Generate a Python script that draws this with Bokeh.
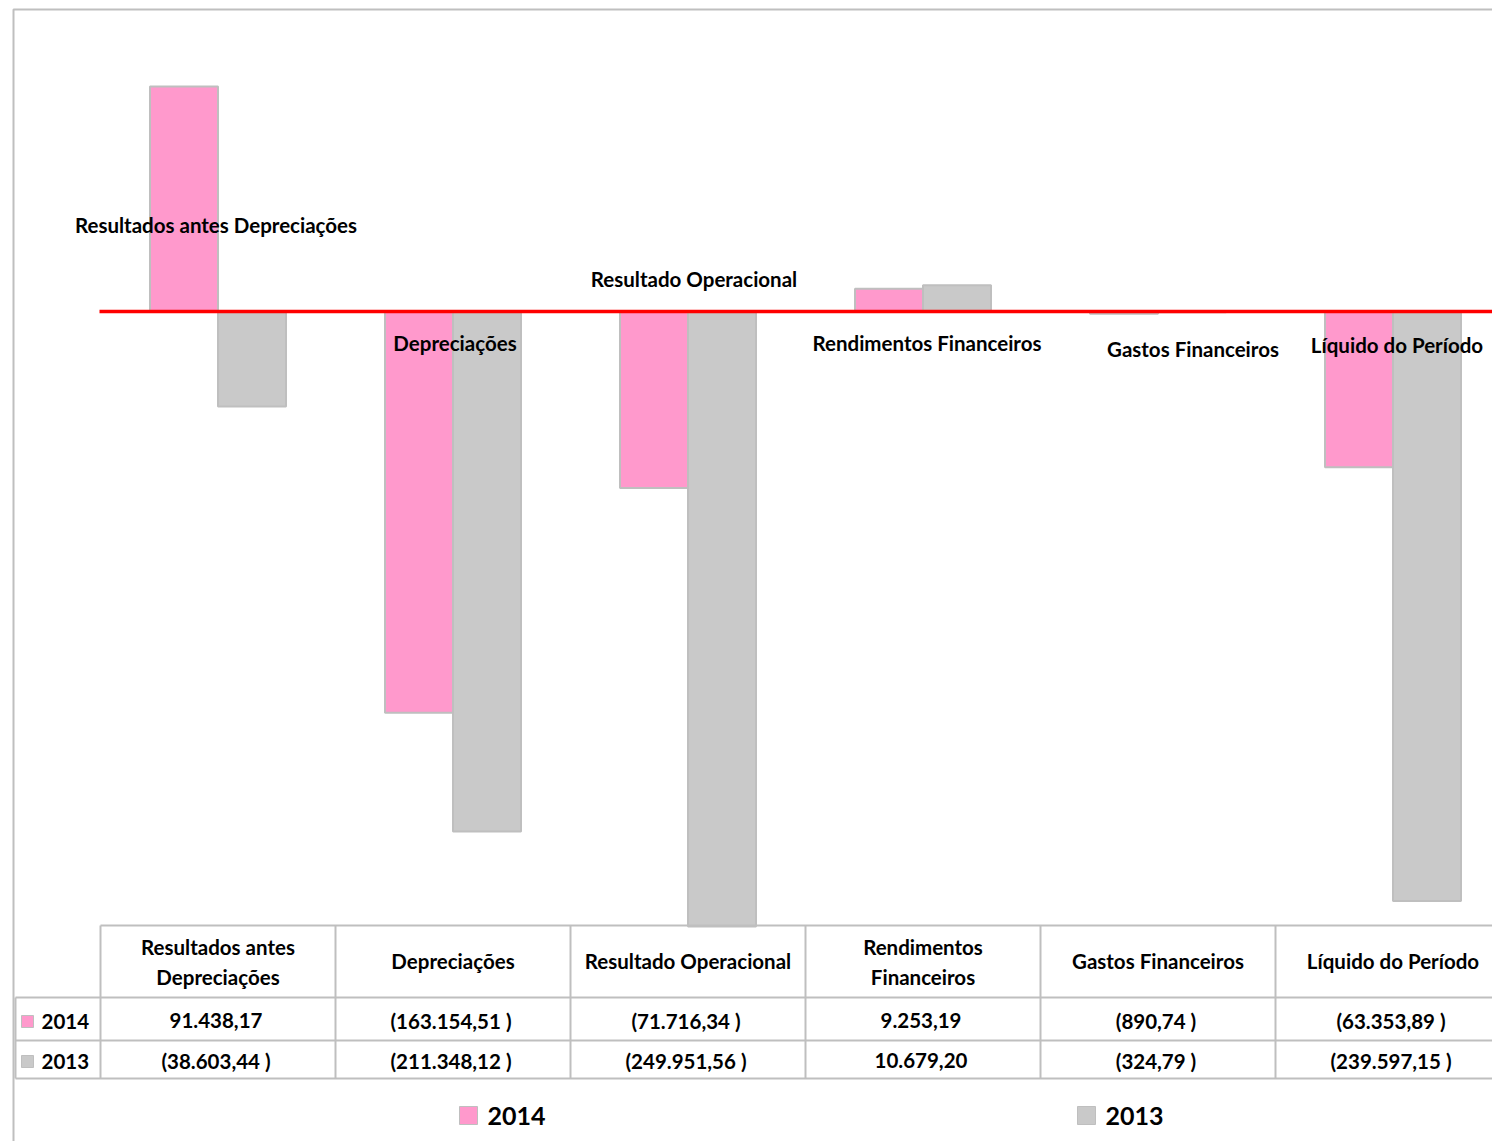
from bokeh.plotting import figure
from bokeh.models import Range1d
from bokeh.core.properties import value
from bokeh.embed import file_html
from bokeh.resources import INLINE

# ---------------- data ----------------
categories = ["Resultados antes Depreciações", "Depreciações", "Resultado Operacional",
              "Rendimentos Financeiros", "Gastos Financeiros", "Líquido do Período"]
header_labels = ["Resultados antes\nDepreciações", "Depreciações", "Resultado Operacional",
                 "Rendimentos\nFinanceiros", "Gastos Financeiros", "Líquido do Período"]
series_names = ["2014", "2013"]
values_2014 = [91438.17, -163154.51, -71716.34, 9253.19, -890.74, -63353.89]
values_2013 = [-38603.44, -211348.12, -249951.56, 10679.20, -324.79, -239597.15]

# ---------------- style / layout ----------------
PINK = "#FF99CC"
GREY = "#C9C9C9"
EDGE = "#BFBFBF"
FONT = "Lato"
FS = "20.5px"
W, H = 1492, 1141
PAGE_X0, PAGE_Y0 = 0, 0
COL_LEFT, COL_W = 100, 235          # table/category columns (px)
ZERO_Y, K = 311, 0.00246            # zero line (px), px per unit
BAR_W = 68 / COL_W

def fmt(v):
    s = f"{abs(v):,.2f}".replace(",", "X").replace(".", ",").replace("X", ".")
    return f"({s} )" if v < 0 else s

p = figure(width=W, height=H, output_backend="svg", toolbar_location=None,
           x_range=Range1d(PAGE_X0, PAGE_X0 + W), y_range=Range1d(PAGE_Y0 + H, PAGE_Y0),
           x_axis_location=None, y_axis_location=None, min_border=0)
p.min_border_left = p.min_border_right = p.min_border_top = p.min_border_bottom = 0
p.grid.visible = False
p.outline_line_color = None
p.background_fill_color = "white"

p.extra_x_ranges = {"cat": Range1d((PAGE_X0 - COL_LEFT) / COL_W - 0.5,
                                   (PAGE_X0 + W - COL_LEFT) / COL_W - 0.5)}
p.extra_y_ranges = {"val": Range1d((ZERO_Y - (PAGE_Y0 + H)) / K, (ZERO_Y - PAGE_Y0) / K)}

n = len(categories)
idx = list(range(n))
right = PAGE_X0 + W

# outer border
p.line([13, 13, right], [PAGE_Y0 + H, 9, 9], line_color=EDGE, line_width=2)

# bars
p.vbar(x=[i - BAR_W / 2 for i in idx], top=values_2014, bottom=0, width=BAR_W,
       fill_color=PINK, line_color=EDGE, line_width=2, x_range_name="cat", y_range_name="val")
p.vbar(x=[i + BAR_W / 2 for i in idx], top=values_2013, bottom=0, width=BAR_W,
       fill_color=GREY, line_color=EDGE, line_width=2, x_range_name="cat", y_range_name="val")

# zero line
p.segment(x0=[-0.5 - 1 / COL_W], x1=[n], y0=[0], y1=[0], line_color="#FF0000", line_width=3.5,
          x_range_name="cat", y_range_name="val")

# category labels in the chart
label_dx = [-2, 2, 6, 4, 35, 4]
label_y = [224, 342, 278, 342, 348, 344]
p.text(x=idx, y=label_y, text=categories, x_offset=label_dx, x_range_name="cat",
       text_font=value(FONT), text_font_style="bold", text_font_size=FS,
       text_align="center", text_baseline="middle", text_color="black")

# ---------------- data table ----------------
T_TOP, T_HDR, T_R1, T_R2 = 925, 997, 1040, 1078
p.segment(x0=[COL_LEFT, 15, 15, 15], x1=[right] * 4, y0=[T_TOP, T_HDR, T_R1, T_R2],
          y1=[T_TOP, T_HDR, T_R1, T_R2], line_color=EDGE, line_width=2)
vx = [COL_LEFT + COL_W * j for j in range(n)]
p.segment(x0=vx, x1=vx, y0=[T_TOP] * n, y1=[T_R2] * n, line_color=EDGE, line_width=2)
p.segment(x0=[15], x1=[15], y0=[T_HDR], y1=[T_R2], line_color=EDGE, line_width=2)

hx, hy, ht = [], [], []
for i, lab in enumerate(header_labels):
    lines = lab.split("\n")
    ys = [946, 976] if len(lines) == 2 else [960]
    for ln, yy in zip(lines, ys):
        hx.append(i); hy.append(yy); ht.append(ln)
p.text(x=hx, y=hy, text=ht, x_range_name="cat", text_font=value(FONT), text_font_style="bold",
       text_font_size=FS, text_align="center", text_baseline="middle", text_color="black")

row_y = [1020, 1060]
for vals, ry, name, col in zip([values_2014, values_2013], row_y, series_names, [PINK, GREY]):
    p.text(x=idx, y=[ry] * n, text=[fmt(v) for v in vals], x_offset=-2, x_range_name="cat",
           text_font=value(FONT), text_font_style="bold", text_font_size=FS,
           text_align="center", text_baseline="middle", text_color="black")
    p.rect(x=[27], y=[ry + 1], width=12, height=12, fill_color=col, line_color=EDGE, line_width=1)
    p.text(x=[41], y=[ry + 1], text=[name], text_font=value(FONT), text_font_style="bold",
           text_font_size=FS, text_align="left", text_baseline="middle", text_color="black")

# ---------------- legend ----------------
leg_x = [468, 1086]
for lx, name, col in zip(leg_x, series_names, [PINK, GREY]):
    p.rect(x=[lx], y=[1115], width=18, height=18, fill_color=col, line_color=EDGE, line_width=1)
    p.text(x=[lx + 19], y=[1115], text=[name], text_font=value(FONT), text_font_style="bold",
           text_font_size="25px", text_align="left", text_baseline="middle", text_color="black")

open("out.html", "w").write(file_html(p, INLINE))
